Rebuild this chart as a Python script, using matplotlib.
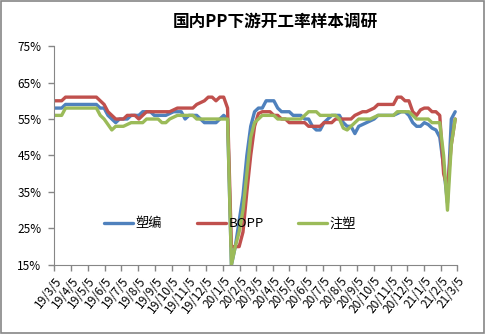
import matplotlib
matplotlib.use("Agg")
import matplotlib.pyplot as plt
import pandas as pd
from matplotlib.patches import Rectangle

plt.rcParams['font.family'] = ['Noto Sans CJK SC', 'DejaVu Sans']

# 数据（周度，2019/3/5 起）
titulo = '国内PP下游开工率样本调研'
series_names = ['塑编', 'BOPP', '注塑']
series_colors = ['#4F81BD', '#C0504D', '#9BBB59']

suobian = [58, 58, 58,
           59, 59, 59, 59, 59, 59, 59, 59, 59,
           58, 58, 56, 55, 54, 55, 55, 55, 56, 56, 56, 57, 57, 57, 56, 56, 56, 56,
           56.5, 57, 57, 57, 55, 56, 56, 56, 55, 54, 54, 54, 54, 55, 56, 55,
           15, 20, 27, 34, 45, 53, 57, 58, 58, 60, 60, 60, 58, 57, 57, 57, 56, 56,
           56, 55, 55, 53, 52, 52, 54, 55, 56, 56, 56, 54, 53, 53, 51, 53, 53.5,
           54, 54.5, 55, 56, 56, 56, 56, 56, 56.5, 57, 57, 56, 54, 53, 53, 54,
           53.5, 52.5, 52, 50, 42, 32, 55, 57]

bopp = [60, 60, 60,
        61, 61, 61, 61, 61, 61, 61, 61, 61,
        60, 59, 57, 56, 55, 55, 55, 56, 56, 56, 55, 56, 57,
        57, 57, 57, 57, 57, 57, 57.5, 58, 58, 58, 58, 58,
        59, 59.5, 60, 61, 61, 60, 61, 61, 58,
        20, 20, 20, 24, 35, 45, 53, 56.5, 57, 57, 57, 56, 56, 55, 55, 54, 54,
        54, 54, 54, 53, 53, 53, 53, 54, 54, 54, 55, 55, 55, 55, 55, 56, 56.5,
        57, 57, 57.5, 58, 59, 59, 59, 59, 59, 61, 61, 60, 60, 57, 56, 57.5,
        58, 58, 57, 57, 56, 40, 36, 48, 55]

zhusu = [56, 56, 56,
         58, 58, 58, 58, 58, 58, 58, 58, 58,
         56, 55, 53.5, 52, 53, 53, 53, 53.5, 54, 54, 54, 54, 55, 55, 55, 55,
         54, 54, 55, 55.5, 56, 56, 56, 56, 56, 55,
         55, 55, 55, 55, 55, 55, 55, 55,
         15, 20, 24, 30, 40, 50, 54, 55, 56, 56, 56, 56, 55,
         55, 55, 55, 55, 55, 55,
         56, 57, 57, 57, 56, 56, 56, 56, 56, 55, 52.5, 52, 53, 54, 55, 55, 55,
         55, 55.5, 56, 56, 56, 56, 56, 57, 57, 57, 57, 56, 55, 55, 55, 55, 54,
         54, 54, 45, 30, 48, 55]

x_labels = ['19/3/5', '19/4/5', '19/5/5', '19/6/5', '19/7/5', '19/8/5', '19/9/5',
            '19/10/5', '19/11/5', '19/12/5', '20/1/5', '20/2/5', '20/3/5', '20/4/5',
            '20/5/5', '20/6/5', '20/7/5', '20/8/5', '20/9/5', '20/10/5', '20/11/5',
            '20/12/5', '21/1/5', '21/2/5', '21/3/5']
y_ticks = [15, 25, 35, 45, 55, 65, 75]

fechas = pd.date_range('2019-03-05', periods=len(suobian), freq='7D')
tick_fechas = pd.to_datetime(['20' + s.replace('/', '-') for s in x_labels])

fig = plt.figure(figsize=(4.86, 3.34), dpi=100)
fig.patches.append(Rectangle((0.002, 0.003), 0.994, 0.994, transform=fig.transFigure,
                             fill=False, edgecolor='#868686', linewidth=1.2))
ax = fig.add_axes([0.111, 0.207, 0.829, 0.655])

for datos, nombre, color in zip([suobian, bopp, zhusu], series_names, series_colors):
    ax.plot(fechas, datos, color=color, linewidth=2.4, label=nombre,
            solid_joinstyle='round', solid_capstyle='round')

ax.set_ylim(15, 75)
ax.set_yticks(y_ticks)
ax.set_yticklabels([f'{v}%' for v in y_ticks], fontsize=8.5)
ax.set_xlim(tick_fechas[0], tick_fechas[-1])
ax.set_xticks(tick_fechas)
ax.set_xticklabels(x_labels, rotation=52, ha='right', va='top',
                   rotation_mode='anchor', fontsize=8.5)

for lado in ['top', 'right']:
    ax.spines[lado].set_visible(False)
for lado in ['left', 'bottom']:
    ax.spines[lado].set_color('#868686')
ax.tick_params(axis='both', direction='out', color='#868686', length=4, width=1)
ax.tick_params(axis='x', pad=3)
ax.tick_params(axis='y', pad=5)

ax.legend(loc='center', bbox_to_anchor=(0.437, 0.187), ncol=3, frameon=False,
          fontsize=9.5, handlelength=2.2, columnspacing=2.6, handletextpad=0.2)

fig.text(0.566, 0.935, titulo, ha='center', va='center', fontsize=12,
         fontweight='bold')

fig.savefig('out.png', dpi=100)
